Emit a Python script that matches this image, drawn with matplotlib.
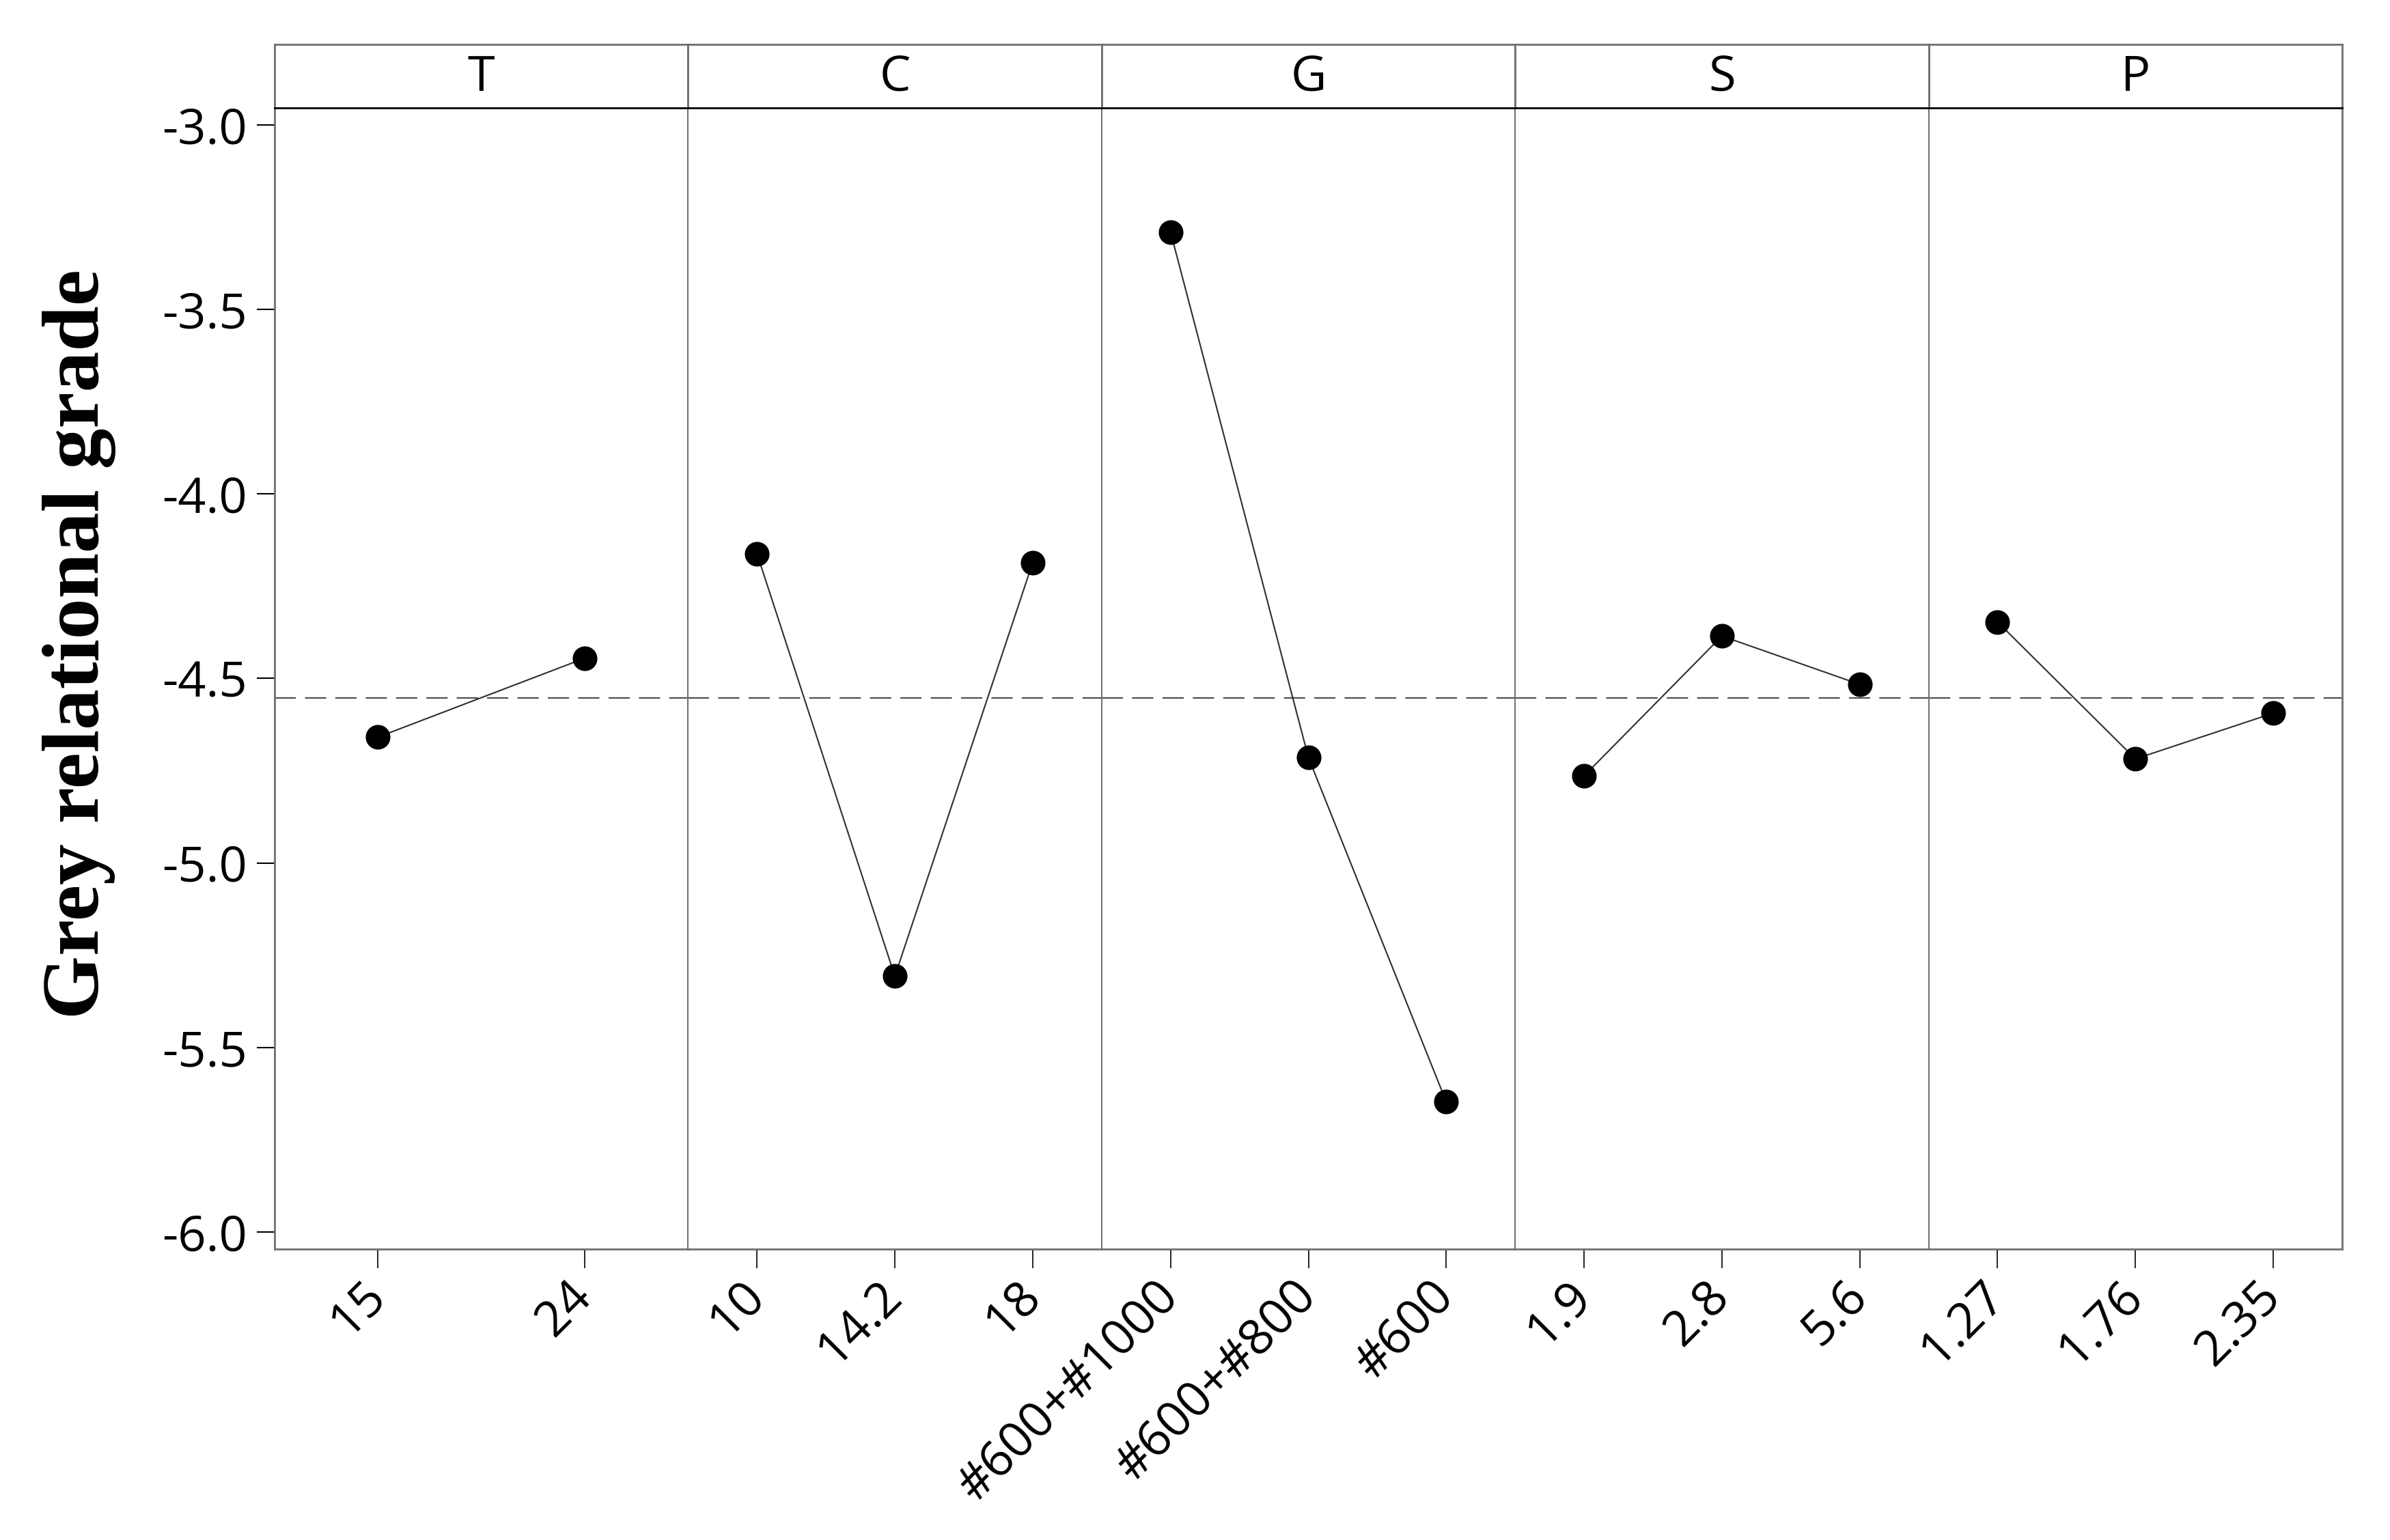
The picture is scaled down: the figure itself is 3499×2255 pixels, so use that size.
import matplotlib
matplotlib.use("Agg")
import matplotlib.pyplot as plt

# ---------------- data ----------------
factors = ["T", "C", "G", "S", "P"]
T_levels = ["15", "24"]
C_levels = ["10", "14.2", "18"]
G_levels = ["#600+#1000", "#600+#800", "#600"]
S_levels = ["1.9", "2.8", "5.6"]
P_levels = ["1.27", "1.76", "2.35"]

T_means = [-4.659, -4.445]
C_means = [-4.162, -5.307, -4.186]
G_means = [-3.290, -4.714, -5.647]
S_means = [-4.764, -4.385, -4.516]
P_means = [-4.347, -4.718, -4.594]

grand_mean = -4.553
y_ticks = [-3.0, -3.5, -4.0, -4.5, -5.0, -5.5, -6.0]
y_label = "Grey relational grade"

levels = [T_levels, C_levels, G_levels, S_levels, P_levels]
means = [T_means, C_means, G_means, S_means, P_means]

# ---------------- style ----------------
plt.rcParams["font.family"] = ["Open Sans", "DejaVu Sans"]
W, H = 3499, 2255
fig = plt.figure(figsize=(W / 100, H / 100), dpi=100)

left_px, right_px = 402, 3429
top_hdr_px, top_px, bot_px = 65, 158, 1829
n = len(factors)
pw = (right_px - left_px) / n

frame_col = "#6e6e6e"
fs = 52

for i, (name, lv, mv) in enumerate(zip(factors, levels, means)):
    x0 = (left_px + i * pw) / W
    ax = fig.add_axes([x0, 1 - bot_px / H, pw / W, (bot_px - top_px) / H])
    hx = fig.add_axes([x0, 1 - top_px / H, pw / W, (top_px - top_hdr_px) / H])

    xs = list(range(1, len(lv) + 1))
    ax.axhline(grand_mean, color="#505050", lw=1.6,
               linestyle=(0, (14, 6)), zorder=1)
    ax.plot(xs, mv, color="#2e2e2e", lw=1.5, marker="o", markersize=25,
            markerfacecolor="black", markeredgecolor="black", zorder=3)
    ax.set_xlim(0.5, len(lv) + 0.5)
    ax.set_ylim(-6.0464, -2.9537)
    ax.set_xticks(xs)
    ax.set_xticklabels(lv, rotation=45, ha="right", va="center",
                       rotation_mode="anchor", fontsize=fs)
    ax.tick_params(axis="x", length=20, width=1.2, color="black", pad=22)
    if i == 0:
        ax.set_yticks(y_ticks)
        ax.set_yticklabels([f"{v:.1f}" for v in y_ticks], fontsize=fs)
        ax.tick_params(axis="y", length=19, width=1.5, color="black", pad=10)
    else:
        ax.set_yticks([])
    for s in ["left", "right", "bottom"]:
        ax.spines[s].set_color(frame_col)
        ax.spines[s].set_linewidth(2.0)
    ax.spines["top"].set_visible(False)
    if i > 0:
        ax.spines["left"].set_linewidth(1.4)
    if i < n - 1:
        ax.spines["right"].set_linewidth(1.4)

    hx.set_xticks([])
    hx.set_yticks([])
    for s in ["left", "right", "top"]:
        hx.spines[s].set_color(frame_col)
        hx.spines[s].set_linewidth(2.0)
    hx.spines["bottom"].set_color("black")
    hx.spines["bottom"].set_linewidth(2.0)
    hx.text(0.5, 0.47, name, ha="center", va="center", fontsize=fs,
            transform=hx.transAxes)

fig.text(116 / W, 1 - 943 / H, y_label, rotation=90, ha="center", va="center",
         fontsize=86, fontweight="bold", family=["Liberation Serif", "DejaVu Serif"])

fig.savefig("out.png", dpi=100, facecolor="white")
